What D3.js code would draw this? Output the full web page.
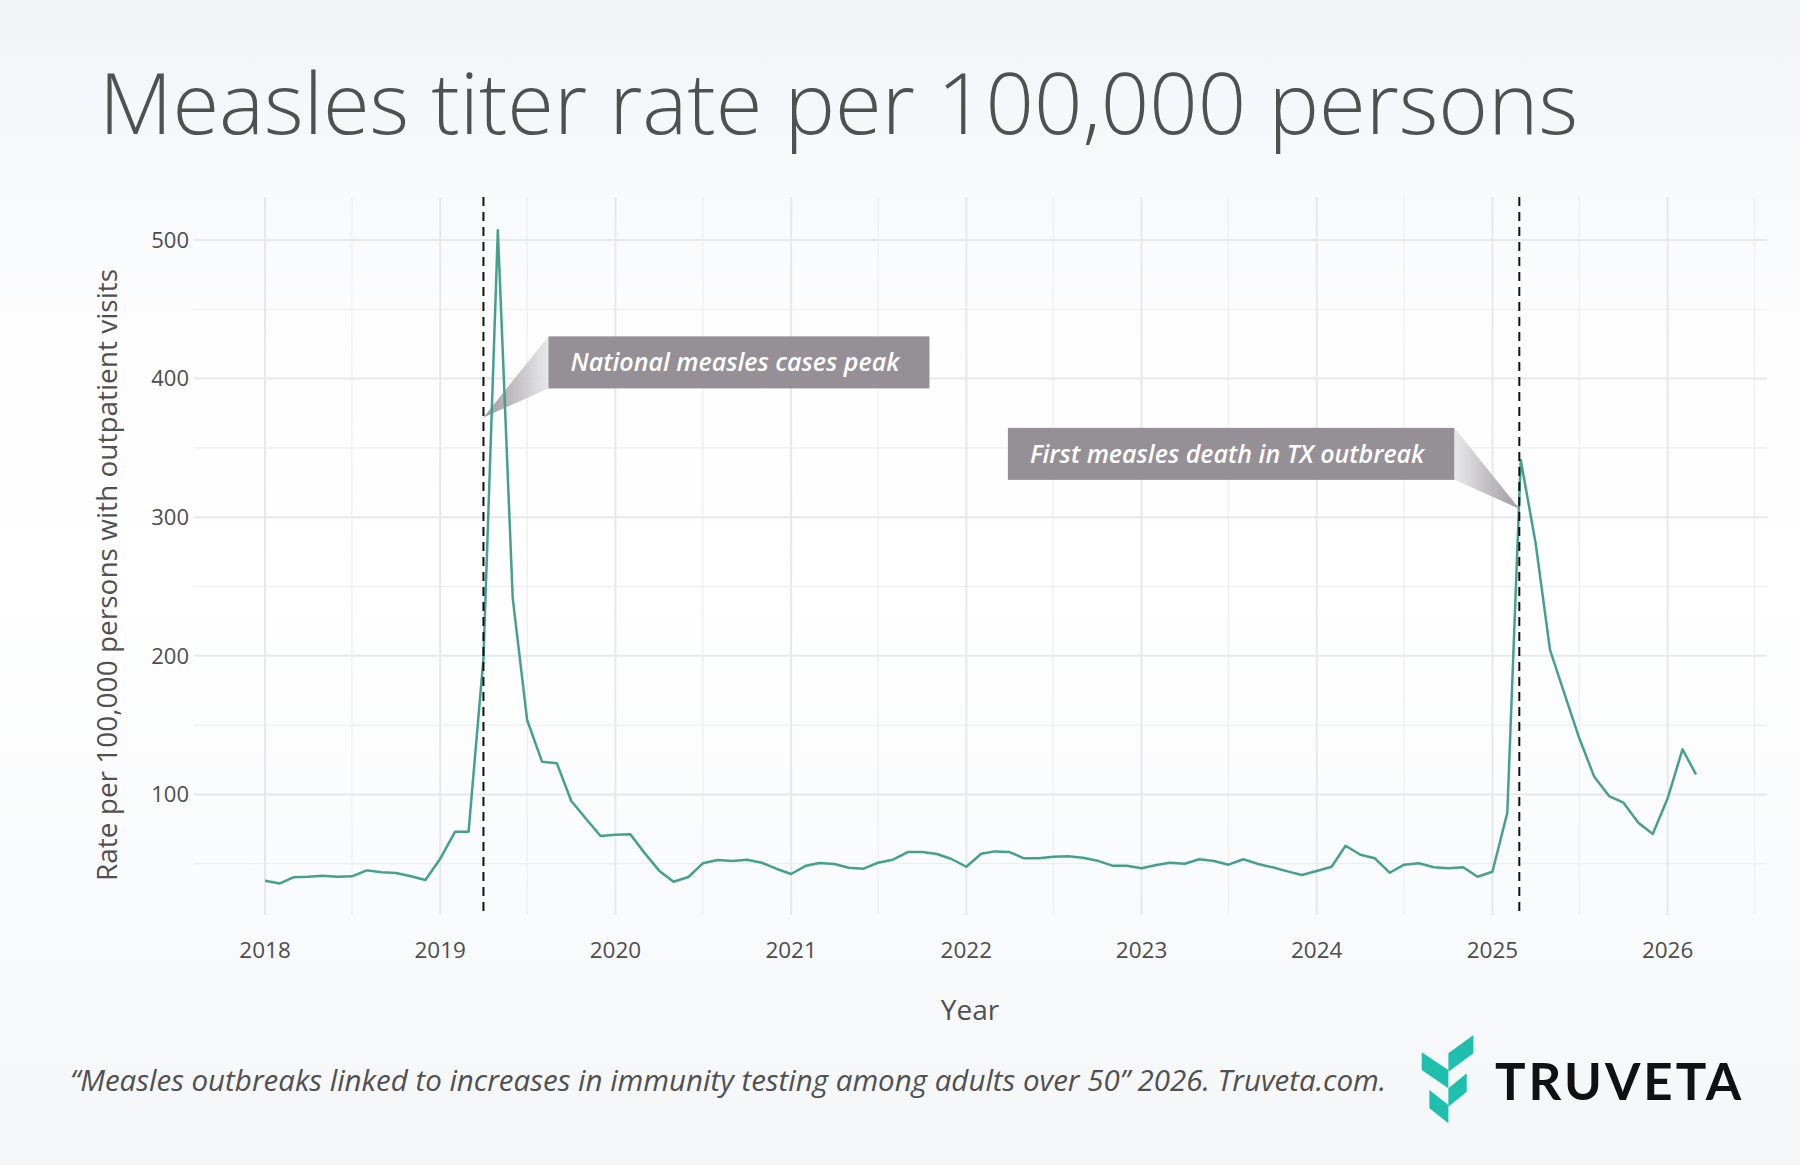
<!DOCTYPE html>
<html>
<head>
<meta charset="utf-8">
<script src="https://cdn.jsdelivr.net/npm/d3@7"></script>
<style>
  html, body { margin: 0; padding: 0; }
  body { width: 1800px; height: 1165px; overflow: hidden; font-family: 'Open Sans', sans-serif; }
</style>
</head>
<body>
<div id="chart"></div>
<script>
// monthly titer rate per 100,000 persons, Jan 2018 .. Mar 2026
const firstMonth = '2018-01-01'
const rates = [
  37.7, 35.8, 40.2, 40.6, 41.4, 40.6, 40.9, 45.2, 43.8, 43.3, 40.9, 38.2, // 2018
  53.6, 73.1, 73.1, 198, 507, 241.5, 153.7, 123.6, 122.4, 95.2, 82.3, 70.0, // 2019
  70.9, 71.2, 58, 45, 37, 40.4, 50.3, 52.7, 52, 52.9, 50.7, 46.4, // 2020
  42.6, 48.6, 50.5, 49.8, 47.1, 46.4, 50.7, 52.9, 58.4, 58.4, 57, 53.4, // 2021
  47.8, 57.2, 58.9, 58.4, 53.9, 53.9, 55.1, 55.3, 54.3, 52.2, 48.6, 48.6, // 2022
  46.7, 49.1, 50.7, 50, 53.2, 52, 49.3, 53.2, 49.8, 47.4, 44.5, 41.8, // 2023
  44.7, 47.8, 63, 56.5, 53.9, 43.5, 49.3, 50.3, 47.4, 46.7, 47.4, 40.6, // 2024
  44.2, 86.8, 341.3, 281.2, 204.2, 171.7, 140.5, 112.8, 98.8, 94, 79.6, 71.4, // 2025
  97.2, 132.5, 114.5 // 2026
]

const yTicks = [100, 200, 300, 400, 500]
const yMinorTicks = [50, 150, 250, 350, 450]
const xTickYears = [2018, 2019, 2020, 2021, 2022, 2023, 2024, 2025, 2026]

const eventDates = ['2019-04-01', '2025-02-26']
const eventLabels = ['National measles cases peak', 'First measles death in TX outbreak']

const titleText = 'Measles titer rate per 100,000 persons'
const yTitle = 'Rate per 100,000 persons with outpatient visits'
const xTitle = 'Year'
const sourceText = '\u201cMeasles outbreaks linked to increases in immunity testing among adults over 50\u201d 2026. Truveta.com.'

const W = 1800
const H = 1165
const margin = { top: 197, left: 194, right: 33, bottom: 250 }
const width = W - margin.left - margin.right
const height = H - margin.top - margin.bottom

const parse = d3.utcParse('%Y-%m-%d')
const start = parse(firstMonth)
const datapoints = rates.map((v, i) => ({ date: d3.utcMonth.offset(start, i), value: v }))

const svg = d3
  .select('#chart')
  .append('svg')
  .attr('width', W)
  .attr('height', H)

const defs = svg.append('defs')

const bg = defs.append('linearGradient')
  .attr('id', 'bg')
  .attr('x1', 0).attr('y1', 0).attr('x2', 0).attr('y2', 1)
bg.append('stop').attr('offset', '0%').attr('stop-color', '#f1f4f7')
bg.append('stop').attr('offset', '28%').attr('stop-color', '#fdfdfe')
bg.append('stop').attr('offset', '50%').attr('stop-color', '#ffffff')
bg.append('stop').attr('offset', '75%').attr('stop-color', '#fafbfc')
bg.append('stop').attr('offset', '100%').attr('stop-color', '#f4f6f8')

svg.append('rect').attr('width', W).attr('height', H).attr('fill', 'url(#bg)')

// callout tail gradients: dark at the tip, light next to the box
function tailGradient(id, fromRight) {
  const g = defs.append('linearGradient')
    .attr('id', id)
    .attr('x1', fromRight ? 1 : 0).attr('y1', 0)
    .attr('x2', fromRight ? 0 : 1).attr('y2', 0)
  g.append('stop').attr('offset', '0%').attr('stop-color', '#958f96')
  g.append('stop').attr('offset', '100%').attr('stop-color', '#e6e6e8')
}
tailGradient('tail-left', false)
tailGradient('tail-right', true)

const chart = svg.append('g')
  .attr('transform', 'translate(' + margin.left + ',' + margin.top + ')')

const xScale = d3.scaleUtc()
  .domain([parse('2017-08-06'), parse('2026-07-27')])
  .range([0, width])

const yScale = d3.scaleLinear()
  .domain([13, 531])
  .range([height, 0])

// grid
const halfYears = xTickYears.map(y => new Date(Date.UTC(y, 6, 1)))
chart.append('g')
  .selectAll('line')
  .data(halfYears)
  .enter()
  .append('line')
  .attr('x1', d => xScale(d)).attr('x2', d => xScale(d))
  .attr('y1', 0).attr('y2', height)
  .attr('stroke', '#eeeeef')
  .attr('stroke-width', 1.2)

chart.append('g')
  .selectAll('line')
  .data(yMinorTicks)
  .enter()
  .append('line')
  .attr('x1', 0).attr('x2', width)
  .attr('y1', d => yScale(d)).attr('y2', d => yScale(d))
  .attr('stroke', '#eeeeef')
  .attr('stroke-width', 1.2)

chart.append('g')
  .selectAll('line')
  .data(xTickYears)
  .enter()
  .append('line')
  .attr('x1', d => xScale(new Date(Date.UTC(d, 0, 1))))
  .attr('x2', d => xScale(new Date(Date.UTC(d, 0, 1))))
  .attr('y1', 0).attr('y2', height)
  .attr('stroke', '#e8e8ea')
  .attr('stroke-width', 2)

chart.append('g')
  .selectAll('line')
  .data(yTicks)
  .enter()
  .append('line')
  .attr('x1', 0).attr('x2', width)
  .attr('y1', d => yScale(d)).attr('y2', d => yScale(d))
  .attr('stroke', '#e8e8ea')
  .attr('stroke-width', 2)

// tick labels
chart.append('g')
  .selectAll('text')
  .data(yTicks)
  .enter()
  .append('text')
  .text(d => d)
  .attr('x', -5)
  .attr('y', d => yScale(d))
  .attr('dy', '0.36em')
  .attr('text-anchor', 'end')
  .attr('font-size', 22)
  .attr('fill', '#4d4d4d')

chart.append('g')
  .selectAll('text')
  .data(xTickYears)
  .enter()
  .append('text')
  .text(d => d)
  .attr('x', d => xScale(new Date(Date.UTC(d, 0, 1))))
  .attr('y', height + 43)
  .attr('text-anchor', 'middle')
  .attr('font-size', 22.5)
  .attr('fill', '#4d4d4d')

// callouts
const callouts = [
  { tip: 372, dx: 65, side: 'right' },
  { tip: 306, dx: -65, side: 'left' }
]
const boxH = 52
const boxRise = 55

eventLabels.forEach((label, i) => {
  const c = callouts[i]
  const tipX = xScale(parse(eventDates[i]))
  const tipY = yScale(c.tip)
  const boxY = tipY - boxRise - boxH / 2
  const g = chart.append('g')

  const txt = g.append('text')
    .text(label)
    .attr('font-size', 25)
    .attr('font-style', 'italic')
    .attr('font-weight', 600)
    .attr('fill', '#ffffff')
    .attr('y', boxY + boxH / 2)
    .attr('dy', '0.36em')
  const tw = txt.node().getComputedTextLength()
  const boxW = tw + 52
  const boxX = c.side === 'right' ? tipX + c.dx : tipX + c.dx - boxW
  const edgeX = c.side === 'right' ? boxX : boxX + boxW

  g.insert('path', 'text')
    .attr('d', `M${tipX},${tipY}L${edgeX},${boxY}L${edgeX},${boxY + boxH}Z`)
    .attr('fill', c.side === 'right' ? 'url(#tail-left)' : 'url(#tail-right)')
    .attr('opacity', 0.9)
  g.insert('rect', 'text')
    .attr('x', boxX).attr('y', boxY)
    .attr('width', boxW).attr('height', boxH)
    .attr('fill', '#958f96')
  txt.attr('x', boxX + 22)
})

// series
const line = d3.line()
  .x(d => xScale(d.date))
  .y(d => yScale(d.value))

chart.append('path')
  .datum(datapoints)
  .attr('d', line)
  .attr('fill', 'none')
  .attr('stroke', '#46a08e')
  .attr('stroke-width', 2.5)
  .attr('stroke-linejoin', 'round')

// event lines
chart.append('g')
  .selectAll('line')
  .data(eventDates)
  .enter()
  .append('line')
  .attr('x1', d => xScale(parse(d))).attr('x2', d => xScale(parse(d)))
  .attr('y1', 0).attr('y2', height)
  .attr('stroke', '#111111')
  .attr('stroke-width', 2)
  .attr('stroke-dasharray', '9,6')

// titles
svg.append('text')
  .text(titleText)
  .attr('x', 99)
  .attr('y', 134)
  .attr('font-size', 85)
  .attr('font-weight', 300)
  .attr('fill', '#505050')

svg.append('text')
  .text(yTitle)
  .attr('transform', 'translate(117,575) rotate(-90)')
  .attr('text-anchor', 'middle')
  .attr('font-size', 28)
  .attr('fill', '#505050')

svg.append('text')
  .text(xTitle)
  .attr('x', 970)
  .attr('y', 1020)
  .attr('text-anchor', 'middle')
  .attr('font-size', 28)
  .attr('fill', '#505050')

svg.append('text')
  .text(sourceText)
  .attr('x', 70)
  .attr('y', 1091)
  .attr('font-size', 29.5)
  .attr('font-style', 'italic')
  .attr('fill', '#505050')

// logo
const logo = svg.append('g').attr('transform', 'translate(1421.7,1035)')
const leaves = [
  [[0, 17.3], [26.7, 35], [26.7, 53.3], [0, 35]],
  [[26.7, 18.3], [51.7, 0], [51.7, 18.3], [26.7, 36.7]],
  [[26.7, 53.3], [45, 38.3], [45, 56.7], [26.7, 71.7]],
  [[7.7, 55], [26.7, 70], [26.7, 88.3], [7.7, 73.3]]
]
logo.selectAll('path')
  .data(leaves)
  .enter()
  .append('path')
  .attr('d', d => 'M' + d.join('L') + 'Z')
  .attr('fill', '#1fbfae')

svg.append('text')
  .text('TRUVETA')
  .attr('x', 1495)
  .attr('y', 1100)
  .attr('font-family', 'Lato, sans-serif')
  .attr('font-weight', 700)
  .attr('font-size', 51)
  .attr('letter-spacing', 3)
  .attr('fill', '#111111')
</script>
</body>
</html>
